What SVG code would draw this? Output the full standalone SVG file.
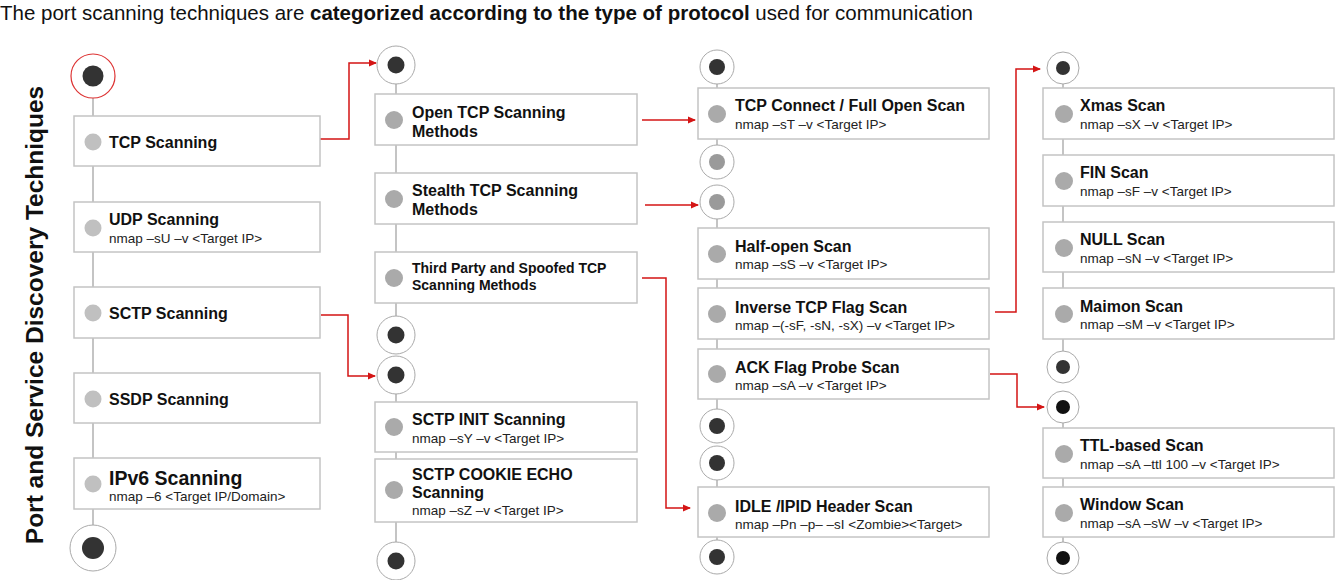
<svg xmlns="http://www.w3.org/2000/svg" width="1342" height="580" viewBox="0 0 1342 580">
<defs>
<style>
.box{fill:#fff;stroke:#c4c4c4;stroke-width:1.5}
.line{stroke:#c4c4c4;stroke-width:2;fill:none}
.ring{fill:#fff;stroke:#aaa;stroke-width:1}
.dot{fill:#333}
.blk{fill:#111}
.gdot{fill:#9a9a9a}
.bul{fill:#aaa}
.bul1{fill:#c0c0c0}
.t{font-family:"Liberation Sans",Arial,sans-serif;font-weight:bold;font-size:16px;fill:#111}
.c{font-family:"Liberation Sans",Arial,sans-serif;font-size:13.5px;fill:#222}
.red{fill:none;stroke:#d41515;stroke-width:1.5}
</style>
<marker id="ah" markerWidth="8" markerHeight="8" refX="7" refY="4" orient="auto" markerUnits="userSpaceOnUse">
<path d="M0,0.5 L8,4 L0,7.5 Z" fill="#d41515"/>
</marker>
</defs>
<rect width="1342" height="580" fill="#fff"/>
<text x="0" y="20" style="font-family:'Liberation Sans',Arial,sans-serif;font-size:20.5px;fill:#111">The port scanning techniques are <tspan font-weight="bold">categorized according to the type of protocol</tspan> used for communication</text>
<text transform="translate(43,315) rotate(-90)" text-anchor="middle" style="font-family:'Liberation Sans',Arial,sans-serif;font-weight:bold;font-size:24.5px;fill:#111">Port and Service Discovery Techniques</text>

<g id="spines">
<line class="line" x1="93" y1="76" x2="93" y2="548"/>
<line class="line" x1="396" y1="65" x2="396" y2="335"/>
<line class="line" x1="396" y1="375" x2="396" y2="561"/>
<line class="line" x1="717" y1="67" x2="717" y2="162"/>
<line class="line" x1="717" y1="202" x2="717" y2="426"/>
<line class="line" x1="717" y1="463" x2="717" y2="557"/>
<line class="line" x1="1063" y1="68" x2="1063" y2="367"/>
<line class="line" x1="1063" y1="407" x2="1063" y2="558"/>
</g>

<g id="connectors">
<polyline class="red" points="320,139 349,139 349,63 376,63" marker-end="url(#ah)"/>
<polyline class="red" points="321,315 348,315 348,376 375,376" marker-end="url(#ah)"/>
<polyline class="red" points="642,120 695,120" marker-end="url(#ah)"/>
<polyline class="red" points="645,205 698,205" marker-end="url(#ah)"/>
<polyline class="red" points="642,278 666,278 666,508 690,508" marker-end="url(#ah)"/>
<polyline class="red" points="995,312 1016,312 1016,69 1040,69" marker-end="url(#ah)"/>
<polyline class="red" points="990,374 1017,374 1017,407 1044,407" marker-end="url(#ah)"/>
</g>

<g id="c1-start"><circle cx="93" cy="76" r="22" fill="#fff" stroke="#d33" stroke-width="1.2"/><circle class="dot" cx="93" cy="76" r="10.5"/></g>
<g id="n-tcp"><rect class="box" x="74" y="116" width="246" height="50"/><circle class="bul1" cx="93" cy="142" r="8.5"/><text class="t" x="109" y="148">TCP Scanning</text></g>
<g id="n-udp"><rect class="box" x="74" y="202" width="246" height="50"/><circle class="bul1" cx="93" cy="228" r="8.5"/><text class="t" x="109" y="225">UDP Scanning</text><text class="c" x="109" y="243">nmap –sU –v &lt;Target IP&gt;</text></g>
<g id="n-sctp"><rect class="box" x="74" y="287" width="246" height="51"/><circle class="bul1" cx="93" cy="313" r="8.5"/><text class="t" x="109" y="319">SCTP Scanning</text></g>
<g id="n-ssdp"><rect class="box" x="74" y="373" width="246" height="50"/><circle class="bul1" cx="93" cy="399" r="8.5"/><text class="t" x="109" y="405">SSDP Scanning</text></g>
<g id="n-ipv6"><rect class="box" x="74" y="458" width="246" height="51"/><circle class="bul1" cx="93" cy="484" r="8.5"/><text class="t" x="109" y="485" style="font-size:19.5px">IPv6 Scanning</text><text class="c" x="109" y="501">nmap –6 &lt;Target IP/Domain&gt;</text></g>
<g id="c1-end"><circle class="ring" cx="93" cy="548" r="23"/><circle class="dot" cx="93" cy="548" r="11"/></g>

<g id="c2-start"><circle class="ring" cx="396" cy="65" r="19"/><circle class="dot" cx="396" cy="65" r="8.5"/></g>
<g id="n-open"><rect class="box" x="375" y="94" width="262" height="51"/><circle class="bul" cx="394" cy="120" r="9"/><text class="t" x="412" y="118">Open TCP Scanning</text><text class="t" x="412" y="137">Methods</text></g>
<g id="n-stealth"><rect class="box" x="375" y="173" width="262" height="51"/><circle class="bul" cx="394" cy="199" r="9"/><text class="t" x="412" y="196">Stealth TCP Scanning</text><text class="t" x="412" y="215">Methods</text></g>
<g id="n-third"><rect class="box" x="375" y="252" width="262" height="51"/><circle class="bul" cx="394" cy="278" r="9"/><text class="t" x="412" y="273" style="font-size:14px">Third Party and Spoofed TCP</text><text class="t" x="412" y="290" style="font-size:14px">Scanning Methods</text></g>
<g id="c2-mid"><circle class="ring" cx="396" cy="335" r="19"/><circle class="dot" cx="396" cy="335" r="8.5"/></g>
<g id="c2-sctp"><circle class="ring" cx="396" cy="375" r="19"/><circle class="dot" cx="396" cy="375" r="8.5"/></g>
<g id="n-sctpinit"><rect class="box" x="375" y="402" width="262" height="50"/><circle class="bul" cx="394" cy="427" r="9"/><text class="t" x="412" y="425">SCTP INIT Scanning</text><text class="c" x="412" y="443">nmap –sY –v &lt;Target IP&gt;</text></g>
<g id="n-sctpcookie"><rect class="box" x="375" y="459" width="262" height="63"/><circle class="bul" cx="394" cy="490" r="9"/><text class="t" x="412" y="480">SCTP COOKIE ECHO</text><text class="t" x="412" y="498">Scanning</text><text class="c" x="412" y="515">nmap –sZ –v &lt;Target IP&gt;</text></g>
<g id="c2-end"><circle class="ring" cx="396" cy="561" r="19"/><circle class="dot" cx="396" cy="561" r="8.5"/></g>

<g id="c3-start"><circle class="ring" cx="717" cy="67" r="17"/><circle class="dot" cx="717" cy="67" r="8"/></g>
<g id="n-connect"><rect class="box" x="698" y="88" width="291" height="51"/><circle class="bul" cx="717" cy="114" r="9"/><text class="t" x="735" y="111">TCP Connect / Full Open Scan</text><text class="c" x="735" y="129">nmap –sT –v &lt;Target IP&gt;</text></g>
<g id="c3-open-end"><circle class="ring" cx="717" cy="162" r="17"/><circle class="gdot" cx="717" cy="162" r="8"/></g>
<g id="c3-stealth"><circle class="ring" cx="717" cy="202" r="17"/><circle class="gdot" cx="717" cy="202" r="8"/></g>
<g id="n-half"><rect class="box" x="698" y="228" width="291" height="51"/><circle class="bul" cx="717" cy="254" r="9"/><text class="t" x="735" y="252">Half-open Scan</text><text class="c" x="735" y="269">nmap –sS –v &lt;Target IP&gt;</text></g>
<g id="n-inverse"><rect class="box" x="698" y="288" width="291" height="51"/><circle class="bul" cx="717" cy="314" r="9"/><text class="t" x="735" y="313">Inverse TCP Flag Scan</text><text class="c" x="735" y="330">nmap –(-sF, -sN, -sX) –v &lt;Target IP&gt;</text></g>
<g id="n-ack"><rect class="box" x="698" y="349" width="291" height="50"/><circle class="bul" cx="717" cy="374" r="9"/><text class="t" x="735" y="373">ACK Flag Probe Scan</text><text class="c" x="735" y="390">nmap –sA –v &lt;Target IP&gt;</text></g>
<g id="c3-stealth-end"><circle class="ring" cx="717" cy="426" r="17"/><circle class="dot" cx="717" cy="426" r="8"/></g>
<g id="c3-idle"><circle class="ring" cx="717" cy="463" r="17"/><circle class="dot" cx="717" cy="463" r="8"/></g>
<g id="n-idle"><rect class="box" x="698" y="487" width="291" height="50"/><circle class="bul" cx="717" cy="513" r="9"/><text class="t" x="735" y="512">IDLE /IPID Header Scan</text><text class="c" x="735" y="529">nmap –Pn –p– –sI &lt;Zombie&gt;&lt;Target&gt;</text></g>
<g id="c3-end"><circle class="ring" cx="717" cy="557" r="17"/><circle class="dot" cx="717" cy="557" r="8"/></g>

<g id="c4-start"><circle class="ring" cx="1063" cy="68" r="16"/><circle class="dot" cx="1063" cy="68" r="7"/></g>
<g id="n-xmas"><rect class="box" x="1043" y="88" width="291" height="51"/><circle class="bul" cx="1064" cy="114" r="9"/><text class="t" x="1080" y="111">Xmas Scan</text><text class="c" x="1080" y="129">nmap –sX –v &lt;Target IP&gt;</text></g>
<g id="n-fin"><rect class="box" x="1043" y="155" width="291" height="51"/><circle class="bul" cx="1064" cy="181" r="9"/><text class="t" x="1080" y="178">FIN Scan</text><text class="c" x="1080" y="196">nmap –sF –v &lt;Target IP&gt;</text></g>
<g id="n-null"><rect class="box" x="1043" y="222" width="291" height="50"/><circle class="bul" cx="1064" cy="248" r="9"/><text class="t" x="1080" y="245">NULL Scan</text><text class="c" x="1080" y="263">nmap –sN –v &lt;Target IP&gt;</text></g>
<g id="n-maimon"><rect class="box" x="1043" y="288" width="291" height="51"/><circle class="bul" cx="1064" cy="314" r="9"/><text class="t" x="1080" y="312">Maimon Scan</text><text class="c" x="1080" y="329">nmap –sM –v &lt;Target IP&gt;</text></g>
<g id="c4-inv-end"><circle class="ring" cx="1063" cy="367" r="16"/><circle class="dot" cx="1063" cy="367" r="7"/></g>
<g id="c4-ack"><circle class="ring" cx="1063" cy="407" r="16"/><circle class="blk" cx="1063" cy="407" r="7"/></g>
<g id="n-ttl"><rect class="box" x="1043" y="428" width="291" height="50"/><circle class="bul" cx="1064" cy="454" r="9"/><text class="t" x="1080" y="451">TTL-based Scan</text><text class="c" x="1080" y="469">nmap –sA –ttl 100 –v &lt;Target IP&gt;</text></g>
<g id="n-window"><rect class="box" x="1043" y="487" width="291" height="50"/><circle class="bul" cx="1064" cy="513" r="9"/><text class="t" x="1080" y="510">Window Scan</text><text class="c" x="1080" y="528">nmap –sA –sW –v &lt;Target IP&gt;</text></g>
<g id="c4-end"><circle class="ring" cx="1063" cy="558" r="16"/><circle class="blk" cx="1063" cy="558" r="7"/></g>
</svg>
